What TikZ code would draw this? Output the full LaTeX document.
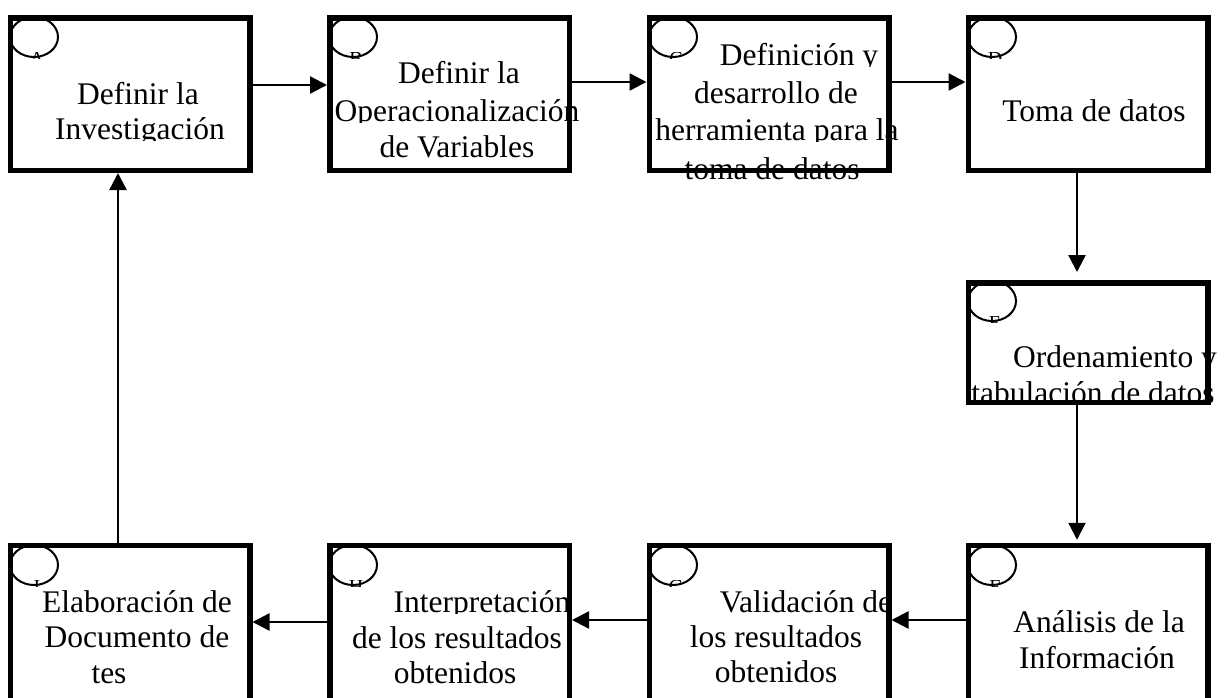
\documentclass[tikz,border=0pt]{standalone}
\usepackage{fontspec}
\setmainfont{Liberation Serif}
\usetikzlibrary{arrows.meta,shapes.geometric}
\tikzset{
  box/.style={draw, line width=5.5pt, rectangle, inner sep=0pt, minimum width=239.5pt},
  topbox/.style={box, minimum height=152.5pt},
  midbox/.style={box, minimum height=119.5pt},
  lowbox/.style={box, minimum height=162pt},
  blob/.style={draw, ellipse, line width=2pt, inner sep=0pt, minimum width=48pt, minimum height=40pt},
  conn/.style={line width=2.4pt, -{Triangle[length=17pt,width=17pt]}},
  txt/.style={anchor=base, inner sep=0pt, font=\fontsize{31.5}{36}\selectfont},
  frag/.style={anchor=base, inner sep=0pt, font=\fontsize{20}{24}\selectfont},
}
% clipped text line: name, centre x, baseline y, text
\newcommand\tline[4]{%
  \begin{scope}
    \clip (#2-270,#3-40) rectangle (#2+270,#3+1.5);
    \node[txt] (#1) at (#2,#3) {#4};
  \end{scope}}
% clipped letter fragment under a circle: name, centre x, circle bottom y, letter
\newcommand\lfrag[4]{%
  \begin{scope}
    \clip (#2-15,#3-5) rectangle (#2+15,#3+1);
    \node[frag] (#1) at (#2,#3+8.5) {#4};
  \end{scope}}
\begin{document}
\begin{tikzpicture}[x=1pt,y=-1pt]
\useasboundingbox (0,0) rectangle (1224,697);
\clip (0,0) rectangle (1224,697);

% boxes
\node[topbox] (A) at (130,94) {};
\node[topbox] (B) at (449.5,94) {};
\node[topbox] (C) at (769,94) {};
\node[topbox] (D) at (1088,94) {};
\node[midbox] (E) at (1088,342.5) {};
\node[lowbox] (F) at (1088,626.5) {};
\node[lowbox] (G) at (769,626.5) {};
\node[lowbox] (H) at (449.5,626.5) {};
\node[lowbox] (I) at (130,626.5) {};

% small circles
\node[blob] (cA) at (34,37) {};
\node[blob] (cB) at (353,37) {};
\node[blob] (cC) at (673,37) {};
\node[blob] (cD) at (992,37) {};
\node[blob] (cE) at (992,301) {};
\node[blob] (cF) at (992,565) {};
\node[blob] (cG) at (673,565) {};
\node[blob] (cH) at (353,565) {};
\node[blob] (cI) at (34,565) {};

% letter fragments
\lfrag{lA}{37}{57}{A}
\lfrag{lB}{356}{57}{B}
\lfrag{lC}{676}{57}{C}
\lfrag{lD}{995}{57}{D}
\lfrag{lE}{995}{321}{E}
\lfrag{lF}{995}{585}{F}
\lfrag{lG}{676}{585}{G}
\lfrag{lH}{356}{585}{H}
\lfrag{lI}{37}{585}{I}

% texts
\tline{tA1}{138}{104}{Definir la}
\tline{tA2}{140}{139}{Investigación}

\tline{tB1}{459}{83}{Definir la}
\tline{tB2}{457}{121}{Operacionalización}
\tline{tB3}{457}{157}{de Variables}

\tline{tC1}{799}{65}{Definición y}
\tline{tC2}{776}{103}{desarrollo de}
\tline{tC3}{777}{140}{herramienta para la}
\tline{tC4}{772}{179.5}{toma de datos}

\tline{tD1}{1094}{121}{Toma de datos}

\tline{tE1}{1115}{367}{Ordenamiento y}
\tline{tE2}{1093}{403}{tabulación de datos}

\tline{tF1}{1099}{632}{Análisis de la}
\tline{tF2}{1097}{668}{Información}

\tline{tG1}{806}{612}{Validación de}
\tline{tG2}{776}{647}{los resultados}
\tline{tG3}{776}{682}{obtenidos}

\tline{tH1}{482}{612}{Interpretación}
\tline{tH2}{457}{648}{de los resultados}
\tline{tH3}{455}{683}{obtenidos}

\tline{tI1}{137}{612}{Elaboración de}
\tline{tI2}{137}{647}{Documento de}
\tline{tI3}{109}{683}{tes}

% connectors
\draw[conn] (A.east |- 0,85) -- (B.west |- 0,85);
\draw[conn] (B.east |- 0,82) -- (C.west |- 0,82);
\draw[conn] (C.east |- 0,82) -- (D.west |- 0,82);
\draw[conn, shorten >=8pt] (D.south -| 1077,0) -- (E.north -| 1077,0);
\draw[conn, shorten >=3pt] (E.south -| 1077,0) -- (F.north -| 1077,0);
\draw[conn] (F.west |- 0,620) -- (G.east |- 0,620);
\draw[conn] (G.west |- 0,620) -- (H.east |- 0,620);
\draw[conn] (H.west |- 0,622) -- (I.east |- 0,622);
\draw[conn] (I.north -| 118,0) -- (A.south -| 118,0);
\end{tikzpicture}
\end{document}
